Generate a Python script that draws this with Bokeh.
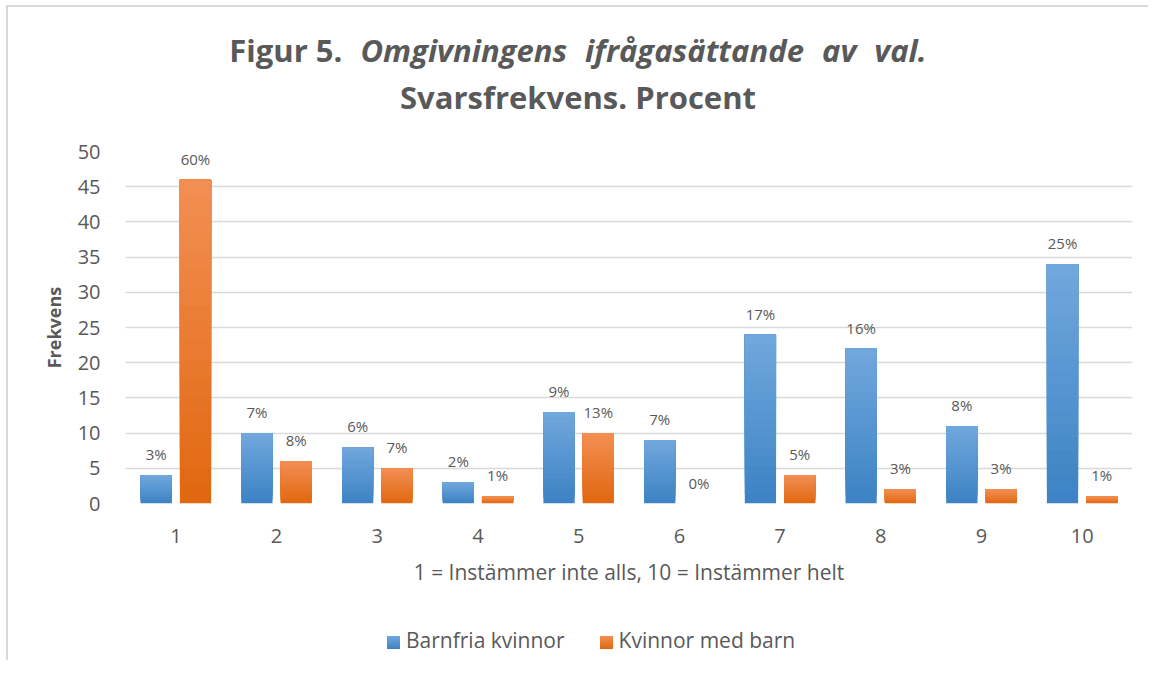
from bokeh.plotting import figure
from bokeh.models import ColumnDataSource, FactorRange, Range1d, Div
from bokeh.layouts import column
from bokeh.transform import dodge
from bokeh.core.properties import value
from bokeh.embed import file_html
from bokeh.resources import INLINE

# ---- data ----
categories = ["1", "2", "3", "4", "5", "6", "7", "8", "9", "10"]
barnfria = [4, 10, 8, 3, 13, 9, 24, 22, 11, 34]
med_barn = [46, 6, 5, 1, 10, 0, 4, 2, 2, 1]
barnfria_pct = ["3%", "7%", "6%", "2%", "9%", "7%", "17%", "16%", "8%", "25%"]
med_barn_pct = ["60%", "8%", "7%", "1%", "13%", "0%", "5%", "3%", "3%", "1%"]
y_ticks = [0, 5, 10, 15, 20, 25, 30, 35, 40, 45, 50]
series_names = ["Barnfria kvinnor", "Kvinnor med barn"]
title_main = "Figur 5."
title_italic = "Omgivningens ifrågasättande av val."
title_sub = "Svarsfrekvens. Procent"
x_title = "1 = Instämmer inte alls, 10 = Instämmer helt"
y_title = "Frekvens"

FONT = "Open Sans"
GREY = "#595959"
BLUE_BOT, BLUE_TOP = "#3b82c4", "#72a8dd"
ORNG_BOT, ORNG_TOP = "#e1670f", "#f28f54"

W = 1140
DIV_H = 112
FIG_H = 486
LEG_H = 55

title_div = Div(
    text=(f'<div style="width:{W - 34}px;padding-left:34px;text-align:center;'
          f'font-family:\'{FONT}\';font-weight:bold;font-size:31px;color:{GREY};'
          f'line-height:47px;padding-top:20px;white-space:nowrap;">'
          f'{title_main}<span style="word-spacing:10px;"> <i>{title_italic}</i></span>'
          f'<br>{title_sub}</div>'),
    width=W, height=DIV_H, margin=0)

p = figure(x_range=FactorRange(factors=categories, range_padding=0),
           y_range=Range1d(0, 50), width=W, height=FIG_H,
           output_backend="svg", toolbar_location=None,
           min_border_left=117, min_border_right=16, min_border_top=32,
           min_border_bottom=FIG_H - 32 - 352, margin=0)


def hex2rgb(h):
    h = h.lstrip("#")
    return [int(h[i:i + 2], 16) for i in (0, 2, 4)]


def lerp(c1, c2, t):
    a, b = hex2rgb(c1), hex2rgb(c2)
    return "#%02x%02x%02x" % tuple(int(round(a[i] + (b[i] - a[i]) * t)) for i in range(3))


N = 18


def gradient_bars(vals, offset, bottom_col, top_col):
    for k in range(N):
        src = ColumnDataSource(dict(x=categories,
                                    bottom=[v * k / N for v in vals],
                                    top=vals))
        col = lerp(bottom_col, top_col, (k + 0.5) / N)
        p.vbar(x=dodge("x", offset, range=p.x_range), bottom="bottom", top="top",
               width=0.31, source=src, fill_color=col, line_color=None)


gradient_bars(barnfria, -0.195, BLUE_BOT, BLUE_TOP)
gradient_bars(med_barn, 0.195, ORNG_BOT, ORNG_TOP)

for vals, labs, off in ((barnfria, barnfria_pct, -0.195), (med_barn, med_barn_pct, 0.195)):
    src = ColumnDataSource(dict(x=categories, y=vals, t=labs))
    p.text(x=dodge("x", off, range=p.x_range), y="y", text="t", source=src,
           text_align="center", text_baseline="bottom", y_offset=-11,
           text_font=value(FONT), text_font_size="15px", text_color=GREY)

# axes
p.yaxis.ticker = y_ticks
p.yaxis.axis_line_color = None
p.yaxis.major_tick_line_color = None
p.yaxis.minor_tick_line_color = None
p.yaxis.major_label_text_font = FONT
p.yaxis.major_label_text_font_size = "20px"
p.yaxis.major_label_text_color = GREY
p.yaxis.major_label_standoff = 19
p.yaxis.axis_label = y_title
p.yaxis.axis_label_text_font = FONT
p.yaxis.axis_label_text_font_style = "bold"
p.yaxis.axis_label_text_font_size = "18px"
p.yaxis.axis_label_text_color = GREY
p.yaxis.axis_label_standoff = 9

p.xaxis.axis_line_color = None
p.xaxis.major_tick_line_color = None
p.xaxis.minor_tick_line_color = None
p.xaxis.major_label_text_font = FONT
p.xaxis.major_label_text_font_size = "20px"
p.xaxis.major_label_text_color = GREY
p.xaxis.major_label_standoff = 19
p.xaxis.axis_label = x_title
p.xaxis.axis_label_text_font = FONT
p.xaxis.axis_label_text_font_style = "normal"
p.xaxis.axis_label_text_font_size = "21px"
p.xaxis.axis_label_text_color = GREY
p.xaxis.axis_label_standoff = 12

p.xgrid.grid_line_color = None
p.ygrid.grid_line_color = "#d9d9d9"
p.ygrid.grid_line_width = 1.5
p.outline_line_color = None


def swatch(bot, top):
    return (f'<span style="display:inline-block;width:13px;height:13px;'
            f'background:linear-gradient({top},{bot});margin-right:6px;'
            f'vertical-align:-1px;"></span>')


legend_div = Div(
    text=(f'<div style="position:relative;width:{W}px;height:{LEG_H}px;">'
          f'<div style="position:absolute;left:379px;top:22px;white-space:nowrap;'
          f'line-height:26px;font-family:\'{FONT}\';font-size:21px;color:{GREY};">'
          f'{swatch(BLUE_BOT, BLUE_TOP)}{series_names[0]}'
          f'<span style="display:inline-block;width:35px;"></span>'
          f'{swatch(ORNG_BOT, ORNG_TOP)}{series_names[1]}</div></div>'),
    width=W, height=LEG_H, margin=0)

layout = column(title_div, p, legend_div, spacing=0,
                styles={"margin-left": "6px", "margin-top": "5px",
                        "border-left": "2px solid #d9d9d9",
                        "border-top": "2px solid #d9d9d9"})

open("out.html", "w").write(file_html(layout, INLINE))
